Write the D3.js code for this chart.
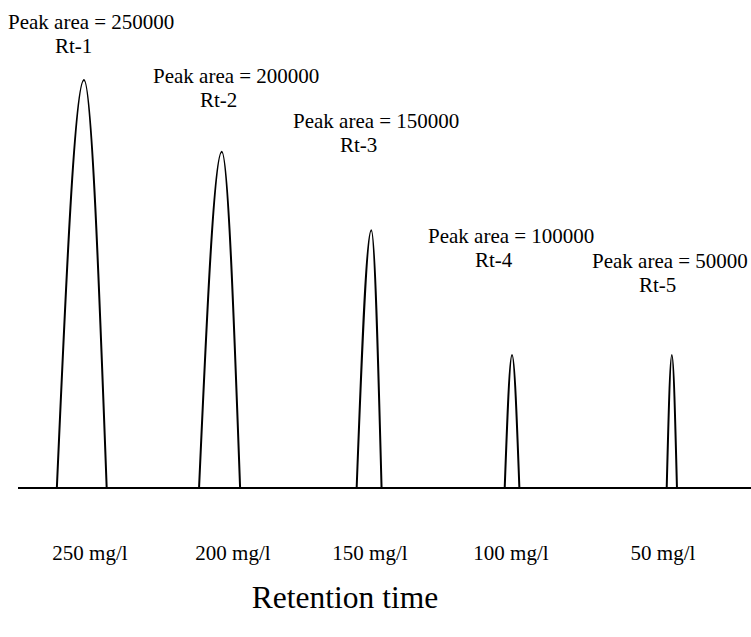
<!DOCTYPE html>
<html>
<head>
<meta charset="utf-8">
<script src="https://cdn.jsdelivr.net/npm/d3@7"></script>
<style>
  html, body { margin: 0; padding: 0; background: #fff; }
  svg { display: block; }
</style>
</head>
<body>
<svg id="chart" width="751" height="637"></svg>
<script>
// Calibration standards: one chromatographic peak per concentration
const concentrations = ["250 mg/l", "200 mg/l", "150 mg/l", "100 mg/l", "50 mg/l"];
const peakAreas = [250000, 200000, 150000, 100000, 50000];
const retentionLabels = ["Rt-1", "Rt-2", "Rt-3", "Rt-4", "Rt-5"];
// retention time (min) where each peak leaves the baseline, reaches its apex, returns
const peakStart = [0.53, 2.47, 4.62, 6.64, 8.85];
const peakApex  = [0.90, 2.78, 4.82, 6.74, 8.92];
const peakEnd   = [1.21, 3.03, 4.96, 6.84, 8.99];
// detector response at the apex
const peakHeights = [92.7, 76.4, 58.6, 30.2, 30.2];

// layout of the annotation text (pixels)
const layout = {
  baselineY: 488,
  annotLeft: [8, 153, 293, 428, 592],
  annotRtBaseline: [53, 107, 152, 267, 292],
  rtIndent: 47,
  lineGap: 24,
  concX: [90, 233, 370, 511, 663],
  concY: 560,
  titleX: 345,
  titleY: 608
};

const SERIF = "'Liberation Serif', Tinos, 'Times New Roman', 'DejaVu Serif', serif";

const svg = d3.select("#chart");
const W = 751;

const x = d3.scaleLinear().domain([0, 10]).range([18, 751]);
const y = d3.scaleLinear().domain([0, 100]).range([layout.baselineY, 48]);

// baseline (time axis)
svg.append("line")
  .attr("x1", x(0)).attr("x2", W)
  .attr("y1", y(0)).attr("y2", y(0))
  .attr("stroke", "#000").attr("stroke-width", 2);

const line = d3.line()
  .x(d => x(d[0]))
  .y(d => y(d[1]))
  .curve(d3.curveMonotoneX);

const peaks = concentrations.map((c, i) => [
  [peakStart[i], 0],
  [peakApex[i], peakHeights[i]],
  [peakEnd[i], 0]
]);

svg.append("g").selectAll("path")
  .data(peaks)
  .join("path")
  .attr("d", line)
  .attr("fill", "none")
  .attr("stroke", "#000")
  .attr("stroke-width", 2);

// peak annotations
const fmt = d3.format("d");
const annot = svg.append("g")
  .attr("font-family", SERIF)
  .attr("font-size", 21)
  .attr("fill", "#000");
peakAreas.forEach((a, i) => {
  const left = layout.annotLeft[i];
  const rtY = layout.annotRtBaseline[i];
  annot.append("text")
    .attr("x", left).attr("y", rtY - layout.lineGap)
    .text("Peak area = " + fmt(a));
  annot.append("text")
    .attr("x", left + layout.rtIndent).attr("y", rtY)
    .text(retentionLabels[i]);
});

// concentration labels under each peak
svg.append("g")
  .attr("font-family", SERIF)
  .attr("font-size", 21)
  .attr("fill", "#000")
  .selectAll("text")
  .data(concentrations)
  .join("text")
  .attr("x", (d, i) => layout.concX[i])
  .attr("y", layout.concY)
  .attr("text-anchor", "middle")
  .text(d => d);

// axis title
svg.append("text")
  .attr("x", layout.titleX).attr("y", layout.titleY)
  .attr("text-anchor", "middle")
  .attr("font-family", SERIF)
  .attr("font-size", 31.5)
  .attr("fill", "#000")
  .text("Retention time");
</script>
</body>
</html>
